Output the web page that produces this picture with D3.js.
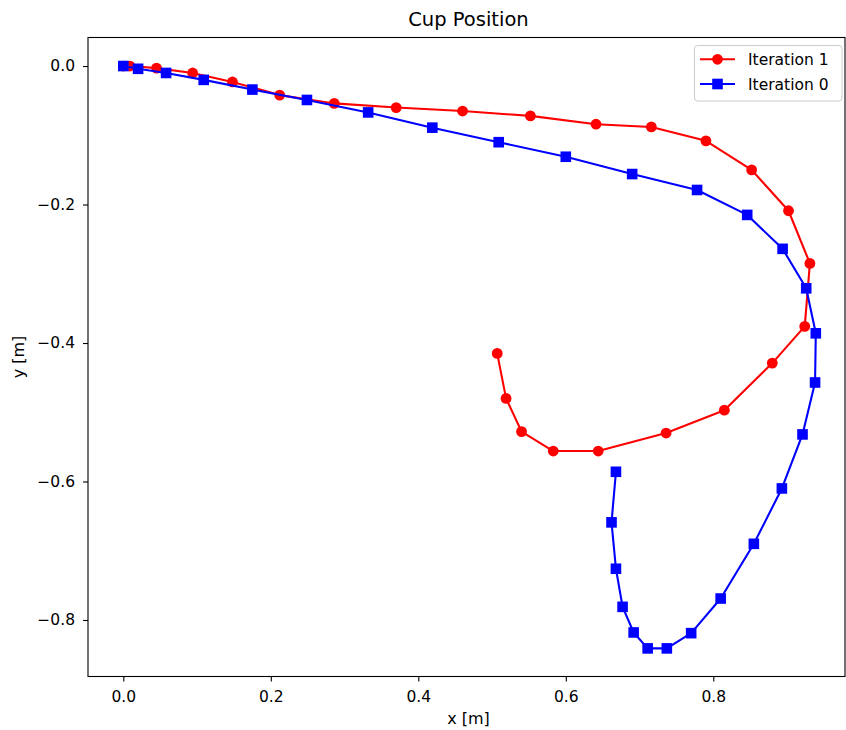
<!DOCTYPE html>
<html>
<head>
<meta charset="utf-8">
<script src="https://cdn.jsdelivr.net/npm/d3@7"></script>
<style>
  html, body { margin: 0; padding: 0; background: #fff; }
  svg { display: block; font-family: "DejaVu Sans", sans-serif; }
</style>
</head>
<body>
<svg id="chart" width="846" height="730"></svg>
<script>
// Cup trajectory in the x-y plane, two learning iterations
const iter1X = [0.000, 0.009, 0.045, 0.094, 0.148, 0.212, 0.286, 0.370, 0.460, 0.552, 0.641, 0.716, 0.790, 0.852, 0.902, 0.931, 0.924, 0.880, 0.815, 0.736, 0.644, 0.583, 0.540, 0.519, 0.507];
const iter1Y = [0.000, 0.000, -0.003, -0.010, -0.023, -0.042, -0.054, -0.060, -0.065, -0.072, -0.084, -0.088, -0.108, -0.150, -0.209, -0.285, -0.376, -0.429, -0.497, -0.530, -0.556, -0.556, -0.528, -0.480, -0.415];

const iter0X = [0.000, 0.020, 0.058, 0.109, 0.175, 0.249, 0.332, 0.419, 0.509, 0.600, 0.690, 0.778, 0.846, 0.894, 0.926, 0.939, 0.938, 0.921, 0.893, 0.855, 0.810, 0.770, 0.737, 0.711, 0.692, 0.677, 0.668, 0.662, 0.668];
const iter0Y = [0.000, -0.004, -0.010, -0.020, -0.034, -0.049, -0.067, -0.089, -0.110, -0.131, -0.156, -0.179, -0.215, -0.264, -0.321, -0.386, -0.457, -0.532, -0.610, -0.690, -0.769, -0.819, -0.841, -0.841, -0.818, -0.781, -0.726, -0.659, -0.586];

const xTicks = [0.0, 0.2, 0.4, 0.6, 0.8];
const yTicks = [0.0, -0.2, -0.4, -0.6, -0.8];

const seriesNames = ["Iteration 1", "Iteration 0"];
const seriesColors = ["#ff0000", "#0000ff"];

const svg = d3.select("#chart");
const plot = { left: 88, right: 845, top: 37.5, bottom: 676.5 };

const x = d3.scaleLinear().domain([-0.0479, 0.9786]).range([plot.left, plot.right]);
const y = d3.scaleLinear().domain([-0.8816, 0.0412]).range([plot.bottom, plot.top]);

const fmt = v => d3.format(".1f")(v).replace("-", "\u2212");

// axes
const xAxis = d3.axisBottom(x).tickValues(xTicks).tickFormat(fmt).tickSize(5).tickSizeOuter(0).tickPadding(9);
const yAxis = d3.axisLeft(y).tickValues(yTicks).tickFormat(fmt).tickSize(5).tickSizeOuter(0).tickPadding(8);

const gx = svg.append("g").attr("transform", `translate(0,${plot.bottom})`).call(xAxis);
const gy = svg.append("g").attr("transform", `translate(${plot.left},0)`).call(yAxis);
[gx, gy].forEach(g => {
  g.select(".domain").remove();
  g.selectAll(".tick line").attr("stroke", "#000").attr("stroke-width", 1.1);
  g.selectAll(".tick text").attr("fill", "#000").style("font-size", "15.5px").style("font-family", "DejaVu Sans");
});

// data
const toPoints = (xs, ys) => xs.map((v, i) => [v, ys[i]]);
const series = [toPoints(iter1X, iter1Y), toPoints(iter0X, iter0Y)];

const line = d3.line().x(d => x(d[0])).y(d => y(d[1]));

svg.append("clipPath").attr("id", "clip")
  .append("rect").attr("x", plot.left).attr("y", plot.top)
  .attr("width", plot.right - plot.left).attr("height", plot.bottom - plot.top);

const dataG = svg.append("g").attr("clip-path", "url(#clip)");

series.forEach((pts, si) => {
  dataG.append("path").datum(pts)
    .attr("d", line).attr("fill", "none")
    .attr("stroke", seriesColors[si]).attr("stroke-width", 2.1)
    .attr("stroke-linejoin", "round").attr("stroke-linecap", "square");
  if (si === 0) {
    dataG.selectAll(null).data(pts).enter().append("circle")
      .attr("cx", d => x(d[0])).attr("cy", d => y(d[1])).attr("r", 5.4)
      .attr("fill", seriesColors[si]);
  } else {
    dataG.selectAll(null).data(pts).enter().append("rect")
      .attr("x", d => x(d[0]) - 5.3).attr("y", d => y(d[1]) - 5.3)
      .attr("width", 10.6).attr("height", 10.6)
      .attr("fill", seriesColors[si]);
  }
});

// frame
svg.append("rect").attr("x", plot.left).attr("y", plot.top)
  .attr("width", plot.right - plot.left).attr("height", plot.bottom - plot.top)
  .attr("fill", "none").attr("stroke", "#000").attr("stroke-width", 1.1);

// title and axis labels
svg.append("text").attr("x", (plot.left + plot.right) / 2 + 2).attr("y", 25.5)
  .attr("text-anchor", "middle").style("font-size", "19.5px").attr("fill", "#000")
  .text("Cup Position");
svg.append("text").attr("x", (plot.left + plot.right) / 2 + 2).attr("y", 723.5)
  .attr("text-anchor", "middle").style("font-size", "16px").attr("fill", "#000")
  .text("x [m]");
svg.append("text").attr("transform", `translate(23.5,${(plot.top + plot.bottom) / 2}) rotate(-90)`)
  .attr("text-anchor", "middle").style("font-size", "16px").attr("fill", "#000")
  .text("y [m]");

// legend
const lg = svg.append("g").attr("transform", "translate(694.5,45.5)");
lg.append("rect").attr("width", 147.5).attr("height", 55.5).attr("rx", 3)
  .attr("fill", "#fff").attr("fill-opacity", 0.8).attr("stroke", "#cccccc").attr("stroke-width", 1);
seriesNames.forEach((name, i) => {
  const yy = 13.8 + i * 24.7;
  lg.append("line").attr("x1", 5.5).attr("x2", 40.5).attr("y1", yy).attr("y2", yy)
    .attr("stroke", seriesColors[i]).attr("stroke-width", 2.1);
  if (i === 0) {
    lg.append("circle").attr("cx", 23).attr("cy", yy).attr("r", 5.4).attr("fill", seriesColors[i]);
  } else {
    lg.append("rect").attr("x", 23 - 5.3).attr("y", yy - 5.3).attr("width", 10.6).attr("height", 10.6)
      .attr("fill", seriesColors[i]);
  }
  lg.append("text").attr("x", 53.5).attr("y", yy + 5.5).style("font-size", "15.5px").attr("fill", "#000")
    .text(name);
});
</script>
</body>
</html>
